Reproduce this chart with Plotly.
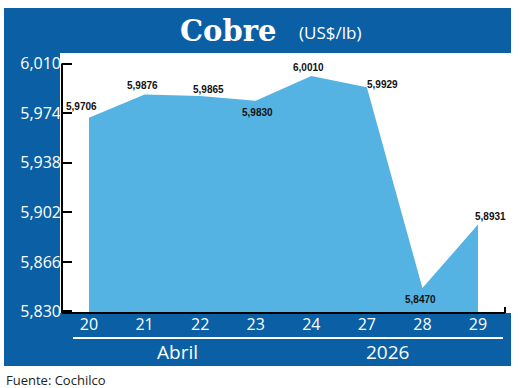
import plotly.graph_objects as go

# ---- data ----
DAYS = ["20", "21", "22", "23", "24", "27", "28", "29"]
PRICES = [5.9706, 5.9876, 5.9865, 5.9830, 6.0010, 5.9929, 5.8470, 5.8931]
PRICE_LABELS = ["5,9706", "5,9876", "5,9865", "5,9830", "6,0010", "5,9929", "5,8470", "5,8931"]
Y_TICKS = [5.830, 5.866, 5.902, 5.938, 5.974, 6.010]
Y_TICK_TEXT = ["5,830", "5,866", "5,902", "5,938", "5,974", "6,010"]
MONTH = "Abril"
YEAR = "2026"
TITLE = "Cobre"
UNIT = "(US$/lb)"
SOURCE = "Fuente: Cochilco"

# ---- style ----
DARK = "#0a5fa5"
LIGHT = "#55b3e3"
W, H = 520, 388
ML, MR, MT, MB = 62, 9, 53, 75
PW, PH = W - ML - MR, H - MT - MB
Y_RANGE = [5.8289, 6.0177]
X_RANGE = [-0.486, 7.594]
LABEL_FONT = "Liberation Sans, Arial, sans-serif"


def px(xp):
    return (xp - ML) / PW


def py(yp):
    return (H - MB - yp) / PH


# label offsets (pixels) relative to each point
LABEL_SHIFT = [(-8, 11), (-2, 9), (8, 6), (2, -12), (-3, 9), (16, 3), (-2, -11), (13, 8)]

fig = go.Figure()
fig.add_trace(go.Scatter(
    x=DAYS, y=PRICES, mode="lines", fill="tozeroy",
    fillcolor=LIGHT, line=dict(width=0, color=LIGHT), hoverinfo="skip",
    showlegend=False,
))

shapes = [
    # header band
    dict(type="rect", xref="paper", yref="paper", x0=px(4), x1=px(511), y0=py(53), y1=py(8),
         fillcolor=DARK, line=dict(width=0), layer="below"),
    # left band
    dict(type="rect", xref="paper", yref="paper", x0=px(4), x1=px(60), y0=py(366), y1=py(53),
         fillcolor=DARK, line=dict(width=0), layer="below"),
    # bottom band
    dict(type="rect", xref="paper", yref="paper", x0=px(59), x1=px(511), y0=py(366), y1=py(313),
         fillcolor=DARK, line=dict(width=0), layer="below"),
    # white separator under x ticks
    dict(type="line", xref="paper", yref="paper", x0=px(73), x1=px(503), y0=py(338), y1=py(338),
         line=dict(color="white", width=2), layer="above"),
    # y axis line
    dict(type="line", xref="paper", yref="y", x0=0, x1=0, y0=Y_RANGE[0], y1=Y_TICKS[-1],
         line=dict(color="black", width=2), layer="above"),
    # x axis line
    dict(type="line", xref="paper", yref="paper", x0=0, x1=px(505), y0=0, y1=0,
         line=dict(color="black", width=2), layer="above"),
    dict(type="line", xref="paper", yref="paper", x0=px(505), x1=px(505), y0=0, y1=py(307),
         line=dict(color="black", width=2), layer="above"),
]

annotations = []
for i, (v, t, (dx, dy)) in enumerate(zip(PRICES, PRICE_LABELS, LABEL_SHIFT)):
    annotations.append(dict(
        x=i, y=v, xref="x", yref="y", text="<b>" + t + "</b>", showarrow=False,
        xshift=dx, yshift=dy, xanchor="center", yanchor="middle",
        font=dict(family=LABEL_FONT, size=10, color="#111111"),
    ))

annotations += [
    dict(x=px(228), y=py(31), xref="paper", yref="paper", text="<b>" + TITLE + "</b>",
         showarrow=False, xanchor="center", yanchor="middle",
         font=dict(family="DejaVu Serif", size=29, color="white")),
    dict(x=px(330), y=py(32), xref="paper", yref="paper", text=UNIT,
         showarrow=False, xanchor="center", yanchor="middle",
         font=dict(family="Open Sans", size=17, color="white")),
    dict(x=px(177), y=py(352), xref="paper", yref="paper", text=MONTH,
         showarrow=False, xanchor="center", yanchor="middle",
         font=dict(family="Open Sans", size=19, color="white")),
    dict(x=px(387), y=py(352), xref="paper", yref="paper", text=YEAR,
         showarrow=False, xanchor="center", yanchor="middle",
         font=dict(family="Open Sans", size=19, color="white")),
    dict(x=px(4), y=py(380), xref="paper", yref="paper", text=SOURCE,
         showarrow=False, xanchor="left", yanchor="middle",
         font=dict(family="Open Sans", size=13, color="#222222")),
]

fig.update_layout(
    width=W, height=H, autosize=False,
    margin=dict(l=ML, r=MR, t=MT, b=MB, pad=0),
    paper_bgcolor="white", plot_bgcolor="white",
    shapes=shapes, annotations=annotations,
    showlegend=False,
    xaxis=dict(type="category", range=X_RANGE, showgrid=False, zeroline=False,
               showline=False, ticks="", fixedrange=True,
               tickfont=dict(family="Open Sans", size=16, color="white")),
    yaxis=dict(range=Y_RANGE, tickvals=Y_TICKS, ticktext=Y_TICK_TEXT,
               showgrid=False, zeroline=False, showline=False,
               ticks="inside", ticklen=10, tickwidth=2, tickcolor="black",
               fixedrange=True,
               tickfont=dict(family="Open Sans", size=16, color="white")),
)

fig.write_html("out.html", config={"displayModeBar": False},
               post_script="document.body.style.margin='0px';document.body.style.padding='0px';")
